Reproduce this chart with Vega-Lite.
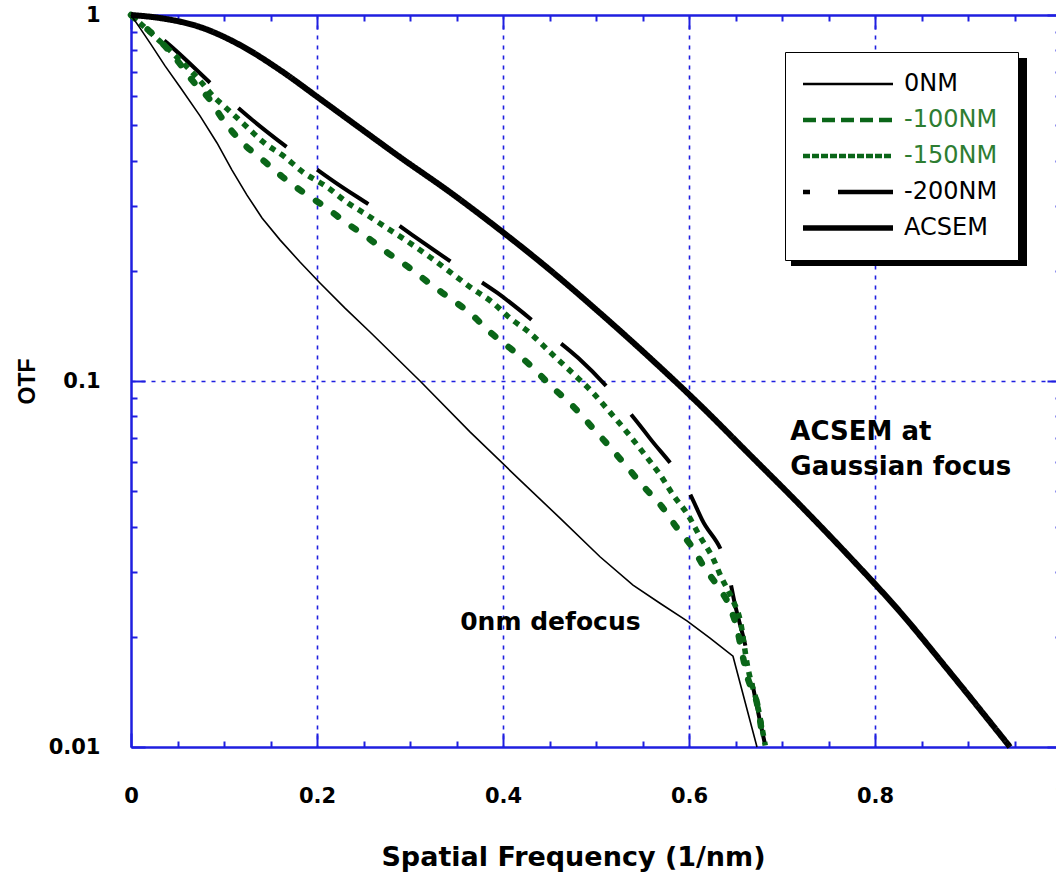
{
 "$schema": "https://vega.github.io/schema/vega-lite/v6.json",
 "width": 930, "height": 732,
 "autosize": "none",
 "padding": {"left": 131, "top": 15, "right": 0, "bottom": 127},
 "background": "white",
 "config": {
  "view": {"stroke": null},
  "axis": {"domainColor": "#1f1fe0", "tickColor": "#1f1fe0", "domainWidth": 2, "tickWidth": 2,
   "labelFont": "DejaVu Sans", "labelFontWeight": "bold", "labelFontSize": 21, "labelColor": "black",
   "titleFont": "DejaVu Sans", "titleFontWeight": "bold", "titleColor": "black", "labelFlush": false, "labelOverlap": false}
 },
 "datasets": {
  "curves": [
   {"series": "-200NM", "f": 0, "otf": 1},
   {"series": "-200NM", "f": 0.0387, "otf": 0.839},
   {"series": "-200NM", "f": 0.0935, "otf": 0.624},
   {"series": "-200NM", "f": 0.128, "otf": 0.523},
   {"series": "-200NM", "f": 0.182, "otf": 0.409},
   {"series": "-200NM", "f": 0.216, "otf": 0.354},
   {"series": "-200NM", "f": 0.27, "otf": 0.287},
   {"series": "-200NM", "f": 0.303, "otf": 0.25},
   {"series": "-200NM", "f": 0.357, "otf": 0.201},
   {"series": "-200NM", "f": 0.394, "otf": 0.174},
   {"series": "-200NM", "f": 0.447, "otf": 0.136},
   {"series": "-200NM", "f": 0.481, "otf": 0.1155},
   {"series": "-200NM", "f": 0.531, "otf": 0.0849},
   {"series": "-200NM", "f": 0.558, "otf": 0.0697},
   {"series": "-200NM", "f": 0.599, "otf": 0.0503},
   {"series": "-200NM", "f": 0.614, "otf": 0.0418},
   {"series": "-200NM", "f": 0.642, "otf": 0.0302},
   {"series": "-200NM", "f": 0.649, "otf": 0.0248},
   {"series": "-200NM", "f": 0.662, "otf": 0.0182},
   {"series": "-200NM", "f": 0.668, "otf": 0.015},
   {"series": "-200NM", "f": 0.682, "otf": 0.0101},
   {"series": "-150NM", "f": 0, "otf": 1},
   {"series": "-150NM", "f": 0.0237, "otf": 0.882},
   {"series": "-150NM", "f": 0.0527, "otf": 0.753},
   {"series": "-150NM", "f": 0.0763, "otf": 0.652},
   {"series": "-150NM", "f": 0.087, "otf": 0.605},
   {"series": "-150NM", "f": 0.101, "otf": 0.561},
   {"series": "-150NM", "f": 0.1226, "otf": 0.5},
   {"series": "-150NM", "f": 0.142, "otf": 0.45},
   {"series": "-150NM", "f": 0.1656, "otf": 0.409},
   {"series": "-150NM", "f": 0.185, "otf": 0.372},
   {"series": "-150NM", "f": 0.2108, "otf": 0.339},
   {"series": "-150NM", "f": 0.232, "otf": 0.308},
   {"series": "-150NM", "f": 0.254, "otf": 0.284},
   {"series": "-150NM", "f": 0.275, "otf": 0.262},
   {"series": "-150NM", "f": 0.298, "otf": 0.24},
   {"series": "-150NM", "f": 0.3215, "otf": 0.218},
   {"series": "-150NM", "f": 0.343, "otf": 0.1986},
   {"series": "-150NM", "f": 0.3645, "otf": 0.1807},
   {"series": "-150NM", "f": 0.388, "otf": 0.1644},
   {"series": "-150NM", "f": 0.4075, "otf": 0.1486},
   {"series": "-150NM", "f": 0.429, "otf": 0.1352},
   {"series": "-150NM", "f": 0.4527, "otf": 0.1185},
   {"series": "-150NM", "f": 0.475, "otf": 0.105},
   {"series": "-150NM", "f": 0.497, "otf": 0.0927},
   {"series": "-150NM", "f": 0.515, "otf": 0.0822},
   {"series": "-150NM", "f": 0.534, "otf": 0.0721},
   {"series": "-150NM", "f": 0.5527, "otf": 0.0628},
   {"series": "-150NM", "f": 0.569, "otf": 0.0554},
   {"series": "-150NM", "f": 0.583, "otf": 0.0488},
   {"series": "-150NM", "f": 0.599, "otf": 0.043},
   {"series": "-150NM", "f": 0.612, "otf": 0.0375},
   {"series": "-150NM", "f": 0.625, "otf": 0.0331},
   {"series": "-150NM", "f": 0.635, "otf": 0.029},
   {"series": "-150NM", "f": 0.647, "otf": 0.0252},
   {"series": "-150NM", "f": 0.655, "otf": 0.0222},
   {"series": "-150NM", "f": 0.663, "otf": 0.0166},
   {"series": "-150NM", "f": 0.674, "otf": 0.0129},
   {"series": "-150NM", "f": 0.682, "otf": 0.0101},
   {"series": "-100NM", "f": 0, "otf": 1},
   {"series": "-100NM", "f": 0.0495, "otf": 0.753},
   {"series": "-100NM", "f": 0.0656, "otf": 0.664},
   {"series": "-100NM", "f": 0.085, "otf": 0.586},
   {"series": "-100NM", "f": 0.099, "otf": 0.517},
   {"series": "-100NM", "f": 0.119, "otf": 0.45},
   {"series": "-100NM", "f": 0.144, "otf": 0.397},
   {"series": "-100NM", "f": 0.163, "otf": 0.361},
   {"series": "-100NM", "f": 0.185, "otf": 0.328},
   {"series": "-100NM", "f": 0.2086, "otf": 0.299},
   {"series": "-100NM", "f": 0.232, "otf": 0.27},
   {"series": "-100NM", "f": 0.254, "otf": 0.247},
   {"series": "-100NM", "f": 0.276, "otf": 0.224},
   {"series": "-100NM", "f": 0.298, "otf": 0.205},
   {"series": "-100NM", "f": 0.319, "otf": 0.1864},
   {"series": "-100NM", "f": 0.341, "otf": 0.1696},
   {"series": "-100NM", "f": 0.3645, "otf": 0.1534},
   {"series": "-100NM", "f": 0.386, "otf": 0.136},
   {"series": "-100NM", "f": 0.4075, "otf": 0.123},
   {"series": "-100NM", "f": 0.429, "otf": 0.1106},
   {"series": "-100NM", "f": 0.4527, "otf": 0.0963},
   {"series": "-100NM", "f": 0.474, "otf": 0.086},
   {"series": "-100NM", "f": 0.4957, "otf": 0.0748},
   {"series": "-100NM", "f": 0.515, "otf": 0.066},
   {"series": "-100NM", "f": 0.5527, "otf": 0.051},
   {"series": "-100NM", "f": 0.571, "otf": 0.0453},
   {"series": "-100NM", "f": 0.587, "otf": 0.0397},
   {"series": "-100NM", "f": 0.604, "otf": 0.035},
   {"series": "-100NM", "f": 0.617, "otf": 0.0308},
   {"series": "-100NM", "f": 0.63, "otf": 0.0277},
   {"series": "-100NM", "f": 0.644, "otf": 0.0241},
   {"series": "-100NM", "f": 0.652, "otf": 0.0209},
   {"series": "-100NM", "f": 0.657, "otf": 0.0181},
   {"series": "-100NM", "f": 0.663, "otf": 0.0155},
   {"series": "-100NM", "f": 0.673, "otf": 0.0132},
   {"series": "-100NM", "f": 0.68, "otf": 0.0103},
   {"series": "0NM", "f": 0, "otf": 1},
   {"series": "0NM", "f": 0.0097, "otf": 0.921},
   {"series": "0NM", "f": 0.0204, "otf": 0.839},
   {"series": "0NM", "f": 0.0366, "otf": 0.726},
   {"series": "0NM", "f": 0.0527, "otf": 0.636},
   {"series": "0NM", "f": 0.0742, "otf": 0.53},
   {"series": "0NM", "f": 0.0925, "otf": 0.447},
   {"series": "0NM", "f": 0.1086, "otf": 0.377},
   {"series": "0NM", "f": 0.1247, "otf": 0.322},
   {"series": "0NM", "f": 0.1409, "otf": 0.279},
   {"series": "0NM", "f": 0.1602, "otf": 0.243},
   {"series": "0NM", "f": 0.1817, "otf": 0.2114},
   {"series": "0NM", "f": 0.2032, "otf": 0.1853},
   {"series": "0NM", "f": 0.2301, "otf": 0.1582},
   {"series": "0NM", "f": 0.257, "otf": 0.1361},
   {"series": "0NM", "f": 0.3108, "otf": 0.1},
   {"series": "0NM", "f": 0.3645, "otf": 0.0726},
   {"series": "0NM", "f": 0.4183, "otf": 0.0536},
   {"series": "0NM", "f": 0.4613, "otf": 0.0422},
   {"series": "0NM", "f": 0.5043, "otf": 0.0331},
   {"series": "0NM", "f": 0.5398, "otf": 0.0277},
   {"series": "0NM", "f": 0.5688, "otf": 0.0247},
   {"series": "0NM", "f": 0.5978, "otf": 0.0221},
   {"series": "0NM", "f": 0.6226, "otf": 0.01985},
   {"series": "0NM", "f": 0.6473, "otf": 0.0177},
   {"series": "0NM", "f": 0.6731, "otf": 0.01},
   {"series": "ACSEM", "f": 0, "otf": 1},
   {"series": "ACSEM", "f": 0.0312, "otf": 0.981},
   {"series": "ACSEM", "f": 0.0742, "otf": 0.927},
   {"series": "ACSEM", "f": 0.1172, "otf": 0.828},
   {"series": "ACSEM", "f": 0.16, "otf": 0.708},
   {"series": "ACSEM", "f": 0.2032, "otf": 0.59},
   {"series": "ACSEM", "f": 0.2462, "otf": 0.491},
   {"series": "ACSEM", "f": 0.2892, "otf": 0.409},
   {"series": "ACSEM", "f": 0.343, "otf": 0.328},
   {"series": "ACSEM", "f": 0.3968, "otf": 0.2586},
   {"series": "ACSEM", "f": 0.4505, "otf": 0.2011},
   {"series": "ACSEM", "f": 0.5043, "otf": 0.1534},
   {"series": "ACSEM", "f": 0.5581, "otf": 0.1156},
   {"series": "ACSEM", "f": 0.6118, "otf": 0.086},
   {"series": "ACSEM", "f": 0.6656, "otf": 0.0628},
   {"series": "ACSEM", "f": 0.7194, "otf": 0.0458},
   {"series": "ACSEM", "f": 0.7731, "otf": 0.033},
   {"series": "ACSEM", "f": 0.8269, "otf": 0.0234},
   {"series": "ACSEM", "f": 0.8806, "otf": 0.016},
   {"series": "ACSEM", "f": 0.9452, "otf": 0.01}
  ],
  "notes": [
   {"f": 0.709, "otf": 0.0726, "label": "ACSEM at", "group": "acsem"},
   {"f": 0.709, "otf": 0.0582, "label": "Gaussian focus", "group": "acsem"},
   {"f": 0.354, "otf": 0.022, "label": "0nm defocus", "group": "zero"}
  ]
 },
 "data": {"name": "curves"},
 "layer": [
  {
   "mark": {"type": "point", "opacity": 0},
   "encoding": {
    "x": {"field": "f", "type": "quantitative", "scale": {"domain": [0, 1], "nice": false, "zero": false},
     "axis": {"orient": "bottom", "values": [0.2, 0.4, 0.6, 0.8], "grid": true, "gridColor": "#1f1fe0", "gridDash": [4, 6], "gridWidth": 1.6, "ticks": false, "labels": false, "domain": false, "title": null}},
    "y": {"field": "otf", "type": "quantitative", "scale": {"type": "log", "domain": [0.01, 1], "nice": false},
     "axis": {"orient": "left", "values": [0.1], "grid": true, "gridColor": "#1f1fe0", "gridDash": [4, 6], "gridWidth": 1.6, "ticks": false, "labels": false, "domain": false, "title": null}}
   }
  },
  {
   "mark": {"type": "point", "opacity": 0},
   "encoding": {
    "x": {"field": "f", "type": "quantitative", "scale": {"domain": [0, 1], "nice": false, "zero": false},
     "axis": {"orient": "bottom", "values": [0.05, 0.1, 0.15, 0.25, 0.3, 0.35, 0.45, 0.5, 0.55, 0.65, 0.7, 0.75, 0.85, 0.9, 0.95], "tickSize": -6, "labels": false, "grid": false, "title": null}},
    "y": {"field": "otf", "type": "quantitative", "scale": {"type": "log", "domain": [0.01, 1], "nice": false},
     "axis": {"orient": "left", "values": [0.02, 0.03, 0.04, 0.05, 0.06, 0.07, 0.08, 0.09, 0.2, 0.3, 0.4, 0.5, 0.6, 0.7, 0.8, 0.9], "tickSize": -6, "labels": false, "grid": false, "title": null}}
   }
  },
  {
   "mark": {"type": "point", "opacity": 0},
   "encoding": {
    "x": {"field": "f", "type": "quantitative", "scale": {"domain": [0, 1], "nice": false, "zero": false},
     "axis": {"orient": "bottom", "values": [0, 0.2, 0.4, 0.6, 0.8, 1], "format": "~g", "tickSize": -14, "labelPadding": 52, "grid": false, "title": "Spatial Frequency (1/nm)", "titleFontSize": 27, "titlePadding": 38, "titleX": 442}},
    "y": {"field": "otf", "type": "quantitative", "scale": {"type": "log", "domain": [0.01, 1], "nice": false},
     "axis": {"orient": "left", "values": [0.01, 0.1, 1], "format": "~g", "tickSize": -14, "labelPadding": 45, "grid": false, "title": "OTF", "titleFont": "Liberation Sans", "titleFontSize": 23, "titlePadding": 9}}
   }
  },
  {
   "mark": {"type": "point", "opacity": 0},
   "encoding": {
    "x": {"field": "f", "type": "quantitative", "scale": {"domain": [0, 1], "nice": false, "zero": false},
     "axis": {"orient": "top", "values": [0.05, 0.1, 0.15, 0.25, 0.3, 0.35, 0.45, 0.5, 0.55, 0.65, 0.7, 0.75, 0.85, 0.9, 0.95], "tickSize": -6, "labels": false, "grid": false, "title": null}},
    "y": {"field": "otf", "type": "quantitative", "scale": {"type": "log", "domain": [0.01, 1], "nice": false},
     "axis": {"orient": "right", "values": [0.02, 0.03, 0.04, 0.05, 0.06, 0.07, 0.08, 0.09, 0.2, 0.3, 0.4, 0.5, 0.6, 0.7, 0.8, 0.9], "tickSize": -6, "labels": false, "grid": false, "title": null}}
   }
  },
  {
   "mark": {"type": "point", "opacity": 0},
   "encoding": {
    "x": {"field": "f", "type": "quantitative", "scale": {"domain": [0, 1], "nice": false, "zero": false},
     "axis": {"orient": "top", "values": [0, 0.2, 0.4, 0.6, 0.8, 1], "tickSize": -14, "labels": false, "grid": false, "title": null}},
    "y": {"field": "otf", "type": "quantitative", "scale": {"type": "log", "domain": [0.01, 1], "nice": false},
     "axis": {"orient": "right", "values": [0.01, 0.1, 1], "tickSize": -14, "labels": false, "grid": false, "title": null}}
   }
  },
  {
   "mark": {"type": "rect", "color": "black"},
   "encoding": {
    "x": {"datum": 0.7097, "type": "quantitative", "scale": {"domain": [0, 1], "nice": false, "zero": false}, "axis": null},
    "x2": {"datum": 0.9634},
    "y": {"datum": 0.763, "type": "quantitative", "scale": {"type": "log", "domain": [0.01, 1], "nice": false}, "axis": null},
    "y2": {"datum": 0.2062}
   }
  },
  {
   "transform": [{"filter": "datum.series === '-200NM'"}],
   "mark": {"type": "line", "strokeWidth": 4, "color": "black", "strokeDash": [62, 38], "strokeDashOffset": 58, "interpolate": "monotone"},
   "encoding": {
    "x": {"field": "f", "type": "quantitative", "scale": {"domain": [0, 1], "nice": false, "zero": false}, "axis": null},
    "y": {"field": "otf", "type": "quantitative", "scale": {"type": "log", "domain": [0.01, 1], "nice": false}, "axis": null}
   }
  },
  {
   "transform": [{"filter": "datum.series === '-150NM'"}],
   "mark": {"type": "line", "strokeWidth": 5.5, "color": "#0a6618", "strokeDash": [6, 6], "interpolate": "monotone"},
   "encoding": {
    "x": {"field": "f", "type": "quantitative", "scale": {"domain": [0, 1], "nice": false, "zero": false}, "axis": null},
    "y": {"field": "otf", "type": "quantitative", "scale": {"type": "log", "domain": [0.01, 1], "nice": false}, "axis": null}
   }
  },
  {
   "transform": [{"filter": "datum.series === '-100NM'"}],
   "mark": {"type": "line", "strokeWidth": 6.5, "color": "#0a6618", "strokeDash": [5, 17], "strokeCap": "round", "interpolate": "monotone"},
   "encoding": {
    "x": {"field": "f", "type": "quantitative", "scale": {"domain": [0, 1], "nice": false, "zero": false}, "axis": null},
    "y": {"field": "otf", "type": "quantitative", "scale": {"type": "log", "domain": [0.01, 1], "nice": false}, "axis": null}
   }
  },
  {
   "transform": [{"filter": "datum.series === '0NM'"}],
   "mark": {"type": "line", "strokeWidth": 1.6, "color": "black"},
   "encoding": {
    "x": {"field": "f", "type": "quantitative", "scale": {"domain": [0, 1], "nice": false, "zero": false}, "axis": null},
    "y": {"field": "otf", "type": "quantitative", "scale": {"type": "log", "domain": [0.01, 1], "nice": false}, "axis": null}
   }
  },
  {
   "transform": [{"filter": "datum.series === 'ACSEM'"}],
   "mark": {"type": "line", "strokeWidth": 6, "interpolate": "monotone"},
   "encoding": {
    "x": {"field": "f", "type": "quantitative", "scale": {"domain": [0, 1], "nice": false, "zero": false}, "axis": null},
    "y": {"field": "otf", "type": "quantitative", "scale": {"type": "log", "domain": [0.01, 1], "nice": false}, "axis": null},
    "color": {"field": "series", "type": "nominal",
     "scale": {"domain": ["0NM", "-100NM", "-150NM", "-200NM", "ACSEM"], "range": ["black", "#0a6618", "#0a6618", "black", "black"]},
     "legend": {"orient": "none", "legendX": 654, "legendY": 37, "title": null, "fillColor": "white", "strokeColor": "black",
      "padding": 20, "rowPadding": 12, "symbolType": "M-9,0H9", "symbolSize": 100, "symbolOffset": 31, "labelOffset": 44,
      "symbolStrokeWidth": {"expr": "datum.value === 'ACSEM' ? 5.5 : datum.value === '0NM' ? 2.5 : 4.5"},
      "labelFont": "DejaVu Sans", "labelFontSize": 24,
      "labelColor": {"expr": "datum.value === '-100NM' || datum.value === '-150NM' ? '#2e7d32' : 'black'"}}},
    "strokeDash": {"field": "series", "type": "nominal",
     "scale": {"domain": ["0NM", "-100NM", "-150NM", "-200NM", "ACSEM"], "range": [[1, 0], [13, 6], [7, 2], [7, 28, 56, 10], [1, 0]]},
     "legend": {"orient": "none", "legendX": 654, "legendY": 37, "title": null, "fillColor": "white", "strokeColor": "black",
      "padding": 20, "rowPadding": 12, "symbolType": "M-9,0H9", "symbolSize": 100, "symbolOffset": 31, "labelOffset": 44,
      "symbolStrokeWidth": {"expr": "datum.value === 'ACSEM' ? 5.5 : datum.value === '0NM' ? 2.5 : 4.5"},
      "labelFont": "DejaVu Sans", "labelFontSize": 24,
      "labelColor": {"expr": "datum.value === '-100NM' || datum.value === '-150NM' ? '#2e7d32' : 'black'"}}}
   }
  },
  {
   "data": {"name": "notes"},
   "transform": [{"filter": "datum.group === 'acsem'"}],
   "mark": {"type": "text", "align": "left", "baseline": "middle", "font": "DejaVu Sans", "fontWeight": "bold", "fontSize": 26, "color": "black"},
   "encoding": {
    "x": {"field": "f", "type": "quantitative", "scale": {"domain": [0, 1], "nice": false, "zero": false}, "axis": null},
    "y": {"field": "otf", "type": "quantitative", "scale": {"type": "log", "domain": [0.01, 1], "nice": false}, "axis": null},
    "text": {"field": "label", "type": "nominal"}
   }
  },
  {
   "data": {"name": "notes"},
   "transform": [{"filter": "datum.group === 'zero'"}],
   "mark": {"type": "text", "align": "left", "baseline": "middle", "font": "DejaVu Sans", "fontWeight": "bold", "fontSize": 25, "color": "black"},
   "encoding": {
    "x": {"field": "f", "type": "quantitative", "scale": {"domain": [0, 1], "nice": false, "zero": false}, "axis": null},
    "y": {"field": "otf", "type": "quantitative", "scale": {"type": "log", "domain": [0.01, 1], "nice": false}, "axis": null},
    "text": {"field": "label", "type": "nominal"}
   }
  }
 ],
 "resolve": {"axis": {"x": "independent", "y": "independent"}}
}
